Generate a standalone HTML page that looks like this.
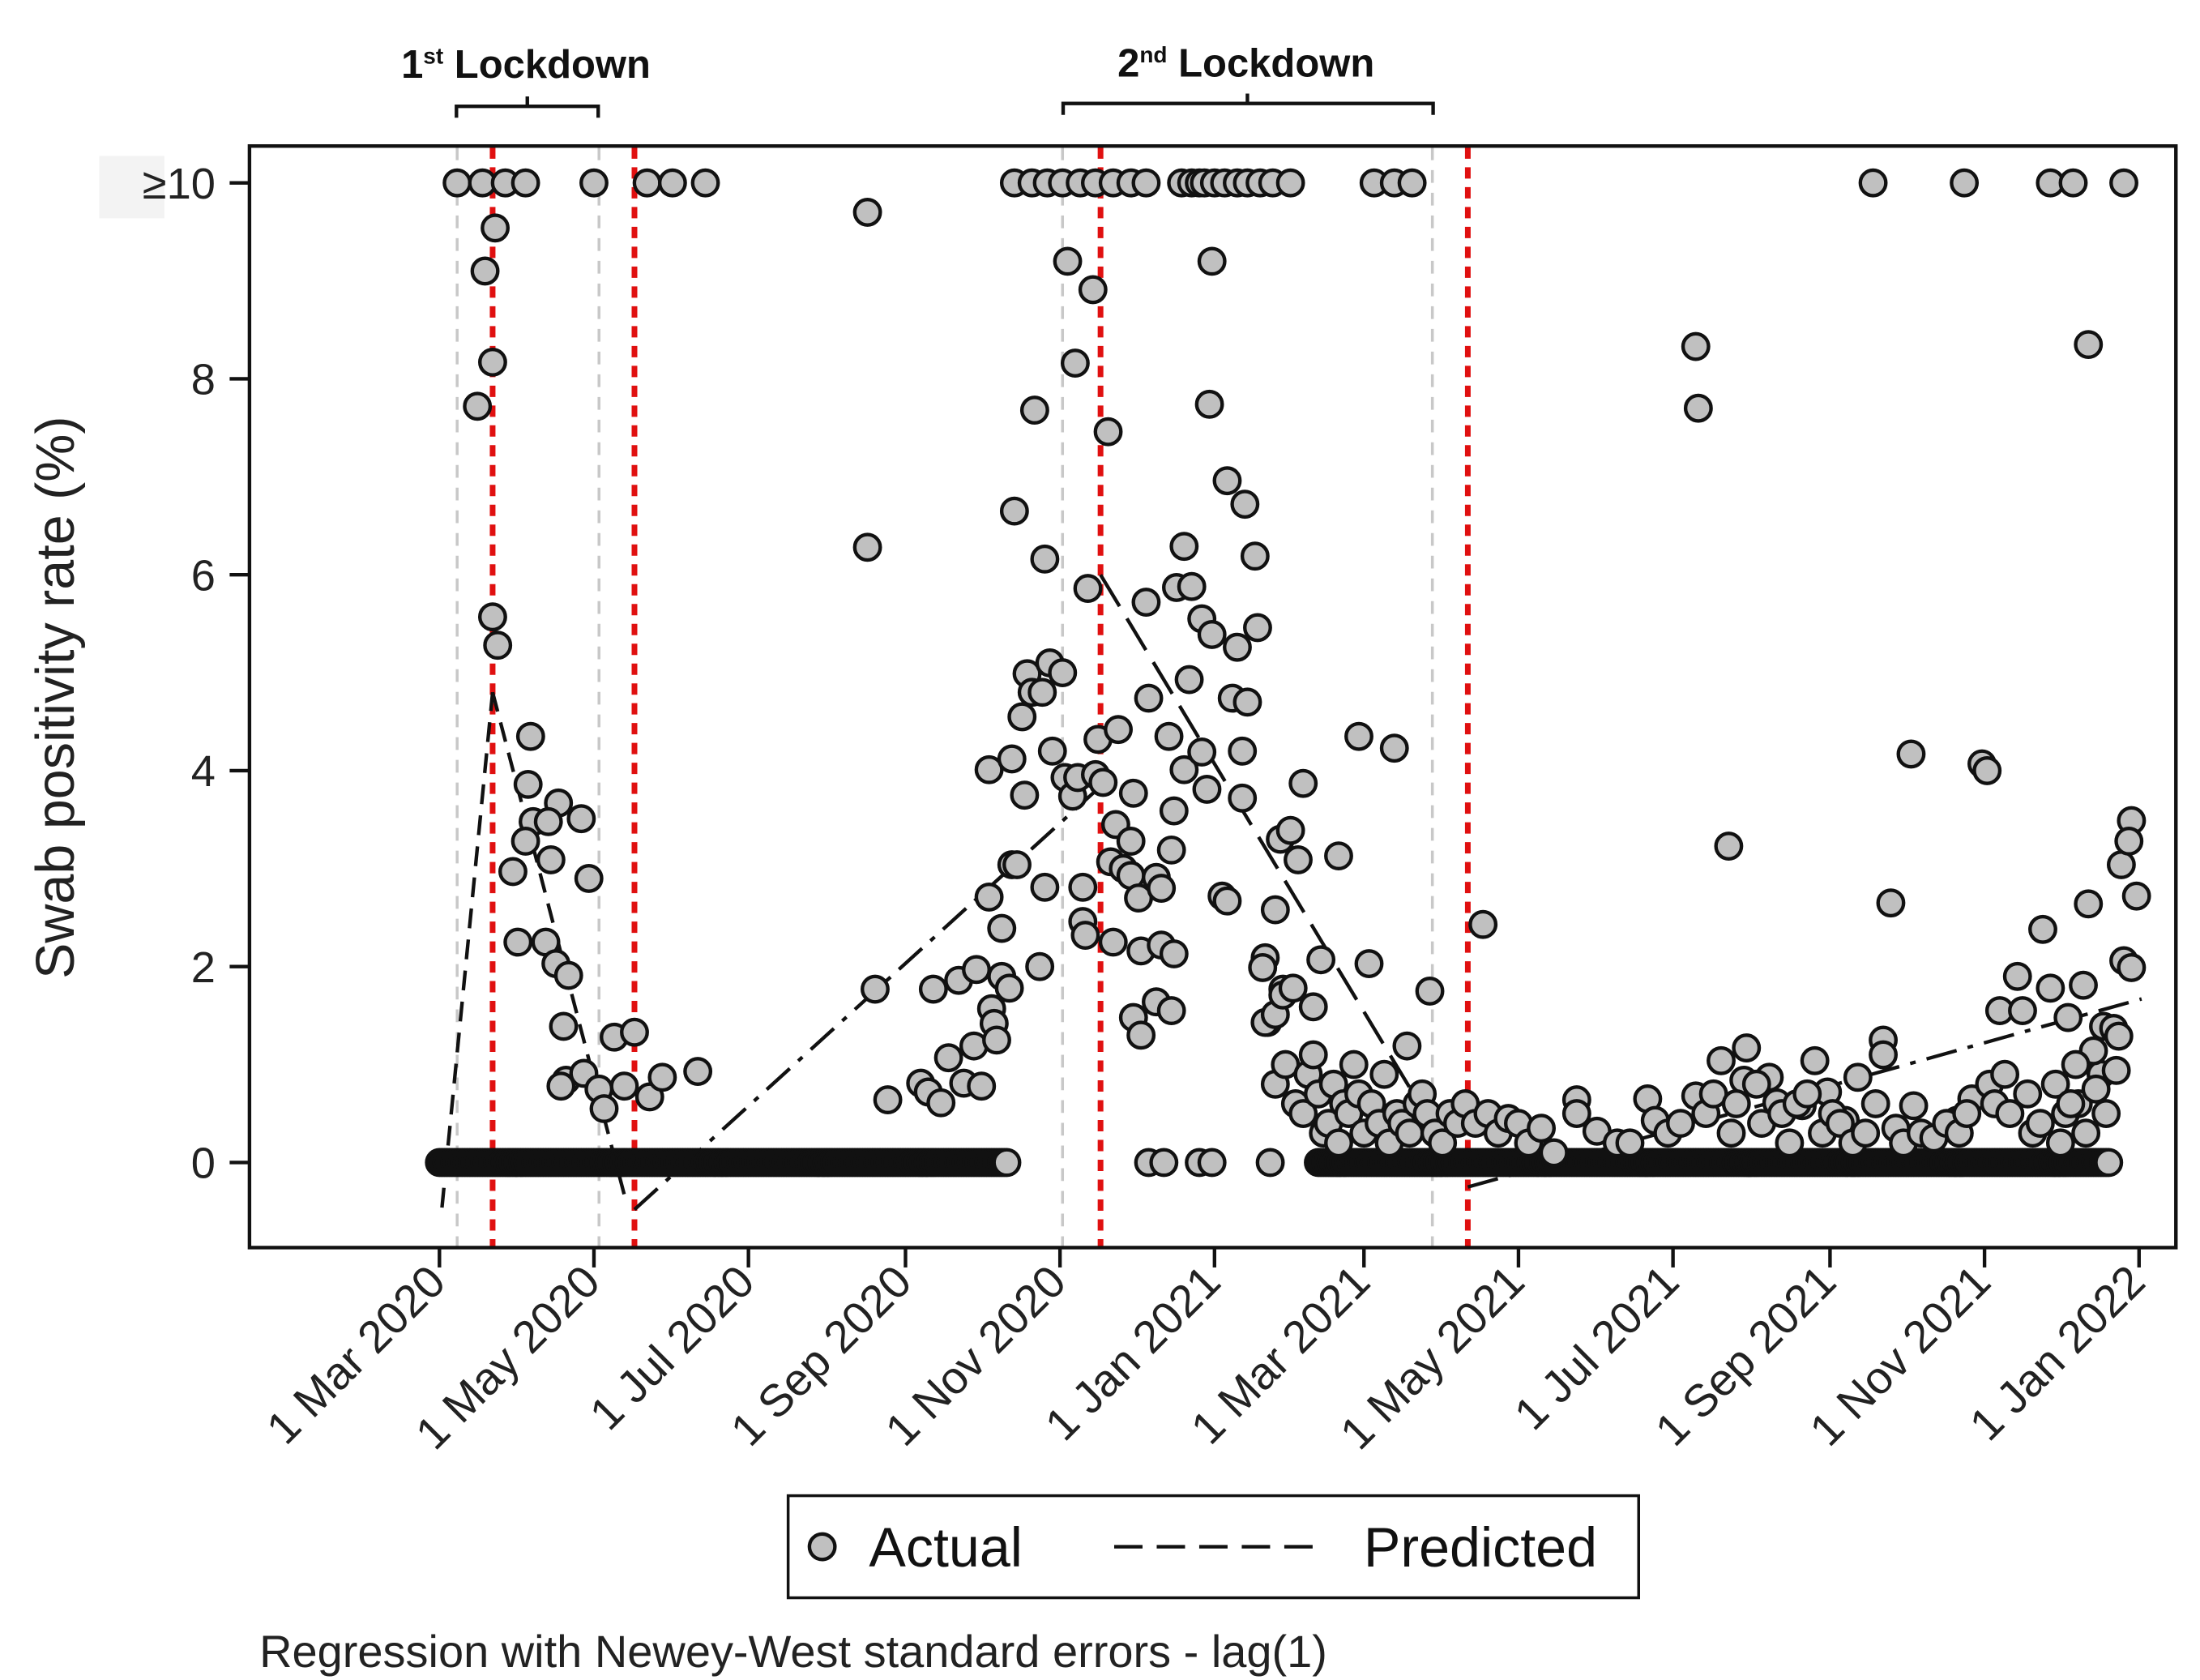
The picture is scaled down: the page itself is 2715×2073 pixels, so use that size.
<!DOCTYPE html>
<html><head><meta charset="utf-8"><style>
html,body{margin:0;padding:0;background:#fff;}
svg{display:block;font-family:"Liberation Sans",sans-serif;}
</style></head><body>
<svg id="chart" width="2715" height="2073" viewBox="0 0 1552 1185" preserveAspectRatio="none" xmlns="http://www.w3.org/2000/svg">
<rect x="0" y="0" width="1552" height="1185" fill="#fff"/>
<g id="guides"></g>
<g id="pred"></g>
<g id="pts"></g>
<rect x="176" y="103" width="1359" height="777" fill="none" stroke="#111" stroke-width="2.5"/>
<g id="axes"></g>
<text transform="translate(52,492) rotate(-90)" text-anchor="middle" font-size="38" fill="#222">Swab positivity rate (%)</text>
<g>
<path d="M322,83 V75 H422 V83 M372,75 V68" fill="none" stroke="#111" stroke-width="2.5"/>
<text x="371" y="55" text-anchor="middle" font-size="28" font-weight="bold" fill="#111">1<tspan font-size="16" dy="-10">st</tspan><tspan dy="10"> Lockdown</tspan></text>
</g>
<g>
<path d="M750,81 V73 H1011 V81 M880,73 V66" fill="none" stroke="#111" stroke-width="2.5"/>
<text x="879" y="54" text-anchor="middle" font-size="28" font-weight="bold" fill="#111">2<tspan font-size="16" dy="-10">nd</tspan><tspan dy="10"> Lockdown</tspan></text>
</g>
<g>
<rect x="556" y="1055" width="600" height="72" fill="#fff" stroke="#111" stroke-width="2"/>
<circle cx="580" cy="1091" r="9" fill="#c0c0c0" stroke="#111" stroke-width="2.5"/>
<text x="613" y="1105" font-size="39" fill="#111">Actual</text>
<line x1="786" y1="1091" x2="936" y2="1091" stroke="#111" stroke-width="2.5" stroke-dasharray="20,10"/>
<text x="962" y="1105" font-size="39" fill="#111">Predicted</text>
</g>
<text x="183" y="1176" font-size="32" fill="#222">Regression with Newey-West standard errors - lag(1)</text>
</svg>
<script>
// data (x = days since 1 Mar 2020, y = positivity %; 10 means ≥10)
const ptDays = [7,17,26,34,61,82,92,105,
18,22,21,15,21,23,36,35,37,34,47,43,56,29,44,59,31,42,46,51,49,50,48,57,63,65,69,77,73,83,88,102,
169,169,172,177,190,193,195,198,201,205,207,211,212,214,217,218,219,220,222,222,225,226,228,227,235,239,237,239,
217,226,230,232,234,231,238,241,246,242,247,250,252,259,262,256,248,258,251,264,260,268,254,254,255,265,267,274,273,270,273,276,283,285,266,277,285,290,274,277,283,289,
279,280,288,296,290,294,289,291,294,297,301,305,301,303,305,304,309,311,311,318,322,313,315,319,323,317,317,326,325,330,332,339,336,341,333,327,326,330,333,337,345,348,363,367,377,382,391,412,355,
227,234,240,246,253,259,266,273,279,293,297,300,302,306,310,315,319,324,329,336,369,377,384,
330,334,338,341,343,345,347,349,351,353,355,357,359,361,363,365,368,371,373,375,378,380,383,386,388,390,393,396,399,402,
405,409,414,418,422,426,430,435,440,449,449,457,465,477,480,496,506,516,515,525,528,543,548,538,555,560,582,599,605,
470,485,490,500,503,510,512,520,522,530,533,536,540,546,550,553,558,563,567,575,578,585,590,595,600,603,612,614,618,620,627,629,632,638,640,642,647,650,656,658,
566,602,636,645,665,496,497,651,509,581,573,609,611,570,570,633,623,616,625,636,651,649,664,668,667,670,665,668,643,657,661,663,653,662,646,654,644];
const ptVals = [10,10,10,10,10,10,10,10,
9.1,9.54,8.17,7.72,5.57,5.28,4.35,3.86,3.48,3.28,3.67,3.48,3.51,2.97,3.09,2.9,2.25,2.25,2.03,1.91,1.39,0.84,0.78,0.91,0.75,0.55,1.28,1.33,0.78,0.67,0.87,0.93,
9.7,6.28,1.77,0.64,0.81,0.72,1.77,0.61,1.07,1.86,0.81,1.19,1.97,0.78,2.71,1.57,1.42,1.25,1.9,2.39,1.78,3.04,3.04,6.65,7.68,6.16,2.0,2.81,
4.01,4.12,4.55,4.99,4.8,3.75,4.8,5.1,5.0,4.2,3.93,3.74,3.93,3.96,3.88,5.86,9.2,8.91,8.16,7.46,4.32,4.42,2.81,2.46,2.32,3.07,3.45,3.77,3.28,3.0,2.93,2.7,2.91,2.8,2.25,2.16,2.22,2.13,1.48,1.3,1.64,1.55,
5.72,4.74,4.35,4.93,3.59,4.01,3.19,5.87,6.29,5.88,5.55,5.39,4.19,3.81,9.2,7.74,2.72,2.67,6.96,6.72,6.19,4.74,5.26,4.7,5.46,4.2,3.72,2.09,1.99,2.58,3.3,3.09,3.39,3.87,1.77,1.43,1.43,1.51,1.71,1.78,1.59,2.07,4.35,2.03,4.23,1.19,1.75,2.43,3.13,
10,10,10,10,10,10,10,10,10,10,10,10,10,10,10,10,10,10,10,10,10,10,10,
0.8,1.0,0.6,0.5,0.9,1.1,0.7,0.3,0.4,0.8,0.2,0.6,0.5,1.0,0.7,0.3,0.6,0.4,0.9,0.2,0.5,0.4,0.3,0.6,0.7,0.5,0.3,0.2,0.5,0.4,
0.6,0.4,0.5,0.3,0.45,0.4,0.2,0.35,0.1,0.64,0.5,0.32,0.2,0.65,0.43,0.68,1.04,1.17,0.84,0.87,0.61,1.04,0.72,0.58,0.43,0.87,0.58,0.43,0.65,
0.2,0.3,0.4,0.5,0.7,0.3,0.6,0.8,0.4,0.5,0.2,0.6,0.7,0.3,0.5,0.4,0.2,0.3,0.6,0.35,0.2,0.3,0.25,0.4,0.3,0.5,0.8,0.6,0.9,0.5,0.7,0.3,0.4,0.8,0.2,0.5,0.6,0.3,0.9,0.5,
10,10,10,10,10,8.33,7.7,8.35,3.23,4.17,2.65,4.07,4.0,1.25,1.1,2.38,1.9,1.55,1.55,1.78,2.64,1.81,3.04,3.49,3.28,2.72,2.06,1.99,1.48,1.39,1.37,1.29,1.14,0.94,1.0,0.75,0.6];
const zeroRangeStart = [0,280,286,300,305,328,347];
const zeroRangeEnd   = [224,280,286,300,305,328,659];
const predStartDay = [1,21,77,261,406];
const predEndDay   = [21,74,261,406,672];
const predStartVal = [-0.46,4.8,-0.48,6.0,-0.25];
const predEndVal   = [4.8,-0.43,3.84,-0.22,1.67];
const predDash = ["14,8","14,8","22,8,4,8","26,10","22,8,4,8"];
const greyLineDays = [7,63,246,392];
const redLineDays = [21,77,261,406];
const xTickDays = [0,61,122,184,245,306,365,426,487,549,610,671];
const xTickLabels = ["1 Mar 2020","1 May 2020","1 Jul 2020","1 Sep 2020","1 Nov 2020","1 Jan 2021","1 Mar 2021","1 May 2021","1 Jul 2021","1 Sep 2021","1 Nov 2021","1 Jan 2022"];
const yTickVals = [0,2,4,6,8,10];
const yTickLabels = ["0","2","4","6","8","≥10"];

const NS="http://www.w3.org/2000/svg";
const xs = d => 310 + d*1199/671;
const ys = v => 820 - v*69.1;
function mk(tag, parent, attrs){const e=document.createElementNS(NS,tag);for(const k in attrs)e.setAttribute(k,attrs[k]);parent.appendChild(e);return e;}
const G=id=>document.getElementById(id);

greyLineDays.forEach(d=>{
  const l=mk('line',G('guides'),{x1:xs(d),x2:xs(d),y1:104,y2:879,stroke:'#c8c8c8','stroke-width':2,'stroke-dasharray':'9,7'});
  
  
});
redLineDays.forEach(d=>{
  const l=mk('line',G('guides'),{x1:xs(d),x2:xs(d),y1:104,y2:879,stroke:'#e01010','stroke-width':4,'stroke-dasharray':'8,6'});
  
  
});
zeroRangeStart.forEach((s,i)=>{
  for(let d=s; d<=zeroRangeEnd[i]; d++){
    const c=mk('circle',G('pts'),{cx:xs(d),cy:ys(0),r:9,fill:'#c0c0c0',stroke:'#111','stroke-width':2.5});
    
    
  }
});
ptDays.forEach((d,i)=>{
  const c=mk('circle',G('pts'),{cx:xs(d),cy:ys(ptVals[i]),r:9,fill:'#c0c0c0',stroke:'#111','stroke-width':2.5});
  
  
});
predStartDay.forEach((s,i)=>{
  const l=mk('line',G('pred'),{x1:xs(s),y1:ys(predStartVal[i]),x2:xs(predEndDay[i]),y2:ys(predEndVal[i]),stroke:'#111','stroke-width':2.5,'stroke-dasharray':predDash[i]});
  
  
});
// axes
const ax=G('axes');
mk('rect',ax,{x:70,y:110,width:46,height:44,fill:'#f3f3f3'});
yTickVals.forEach((v,i)=>{
  mk('line',ax,{x1:162,x2:176,y1:ys(v),y2:ys(v),stroke:'#111','stroke-width':2.5});
  const t=mk('text',ax,{x:152,y:ys(v)+11,'text-anchor':'end','font-size':31,fill:'#222'});
  t.textContent=yTickLabels[i];
  
  
});
xTickDays.forEach((d,i)=>{
  const x=xs(d);
  mk('line',ax,{x1:x,x2:x,y1:880,y2:894,stroke:'#111','stroke-width':2.5});
  const t=mk('text',ax,{transform:`translate(${x+6},${906}) rotate(-45)`,'text-anchor':'end','font-size':32,fill:'#222'});
  t.textContent=xTickLabels[i];
  
  
});
</script>
</body></html>
